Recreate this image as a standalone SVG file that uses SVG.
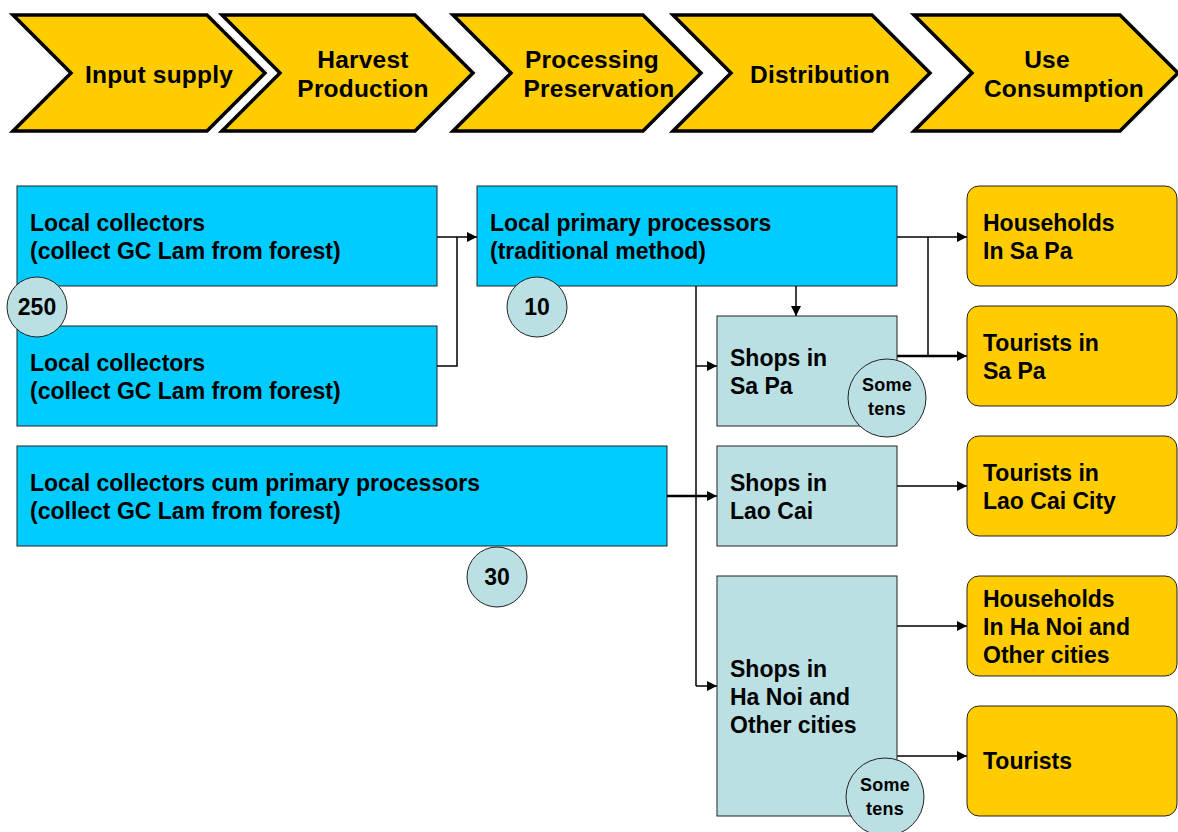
<svg xmlns="http://www.w3.org/2000/svg" width="1178" height="832" viewBox="0 0 1178 832">
<defs>
<style>
.chev{fill:#FFCC00;stroke:#000;stroke-width:3.5;stroke-linejoin:miter}
.ct{font-family:"Liberation Sans",Arial,sans-serif;font-weight:bold;font-size:24.5px;letter-spacing:0.2px;fill:#000;text-anchor:middle}
.blue{fill:#00CCFF;stroke:#222;stroke-width:1}
.shop{fill:#BBE0E3;stroke:#222;stroke-width:1}
.cons{fill:#FFCC00;stroke:#222;stroke-width:1}
.circ{fill:#BBE0E3;stroke:#222;stroke-width:1}
.t{font-family:"Liberation Sans",Arial,sans-serif;font-weight:bold;font-size:23px;fill:#000}
.cn{font-family:"Liberation Sans",Arial,sans-serif;font-weight:bold;font-size:23px;fill:#000;text-anchor:middle}
.cs{font-family:"Liberation Sans",Arial,sans-serif;font-weight:bold;font-size:18px;letter-spacing:0.3px;fill:#000;text-anchor:middle}
.ln{fill:none;stroke:#000;stroke-width:1.5}
.lnb{fill:none;stroke:#000;stroke-width:2.5}
</style>
<marker id="ah" viewBox="0 0 10 10" refX="10" refY="5" markerWidth="10" markerHeight="10" markerUnits="userSpaceOnUse" orient="auto">
<path d="M0,0 L10,5 L0,10 z" fill="#000"/>
</marker>
</defs>
<rect width="1178" height="832" fill="#fff"/>

<g id="stage-input">
<polygon class="chev" points="13,15 207,15 265,73 207,131 13,131 71,73"/>
<text class="ct" x="159" y="83">Input supply</text>
</g>
<g id="stage-harvest">
<polygon class="chev" points="222,15 415,15 473,73 415,131 222,131 280,73"/>
<text class="ct" x="363" y="68">Harvest</text>
<text class="ct" x="363" y="97">Production</text>
</g>
<g id="stage-processing">
<polygon class="chev" points="453,15 643,15 701,73 643,131 453,131 511,73"/>
<text class="ct" x="592" y="68">Processing</text>
<text class="ct" x="599" y="97">Preservation</text>
</g>
<g id="stage-distribution">
<polygon class="chev" points="673,15 872,15 930,73 872,131 673,131 731,73"/>
<text class="ct" x="820" y="83">Distribution</text>
</g>
<g id="stage-use">
<polygon class="chev" points="914,15 1120,15 1178,73 1120,131 914,131 972,73"/>
<text class="ct" x="1047" y="68">Use</text>
<text class="ct" x="1064" y="97">Consumption</text>
</g>

<g id="connectors">
<polyline class="ln" points="437,237 457,237"/>
<polyline class="ln" points="437,366 457,366 457,237"/>
<line class="ln" x1="457" y1="237" x2="477" y2="237" marker-end="url(#ah)"/>
<line class="ln" x1="796" y1="286" x2="796" y2="316" marker-end="url(#ah)"/>
<polyline class="ln" points="696,286 696,686"/>
<line class="ln" x1="696" y1="366" x2="717" y2="366" marker-end="url(#ah)"/>
<line class="lnb" x1="667" y1="496" x2="709" y2="496"/>
<line class="ln" x1="696" y1="496" x2="717" y2="496" marker-end="url(#ah)"/>
<line class="ln" x1="696" y1="686" x2="717" y2="686" marker-end="url(#ah)"/>
<line class="ln" x1="897" y1="237" x2="967" y2="237" marker-end="url(#ah)"/>
<polyline class="ln" points="928,237 928,356"/>
<line class="lnb" x1="897" y1="356" x2="959" y2="356"/>
<line class="ln" x1="897" y1="356" x2="967" y2="356" marker-end="url(#ah)"/>
<line class="ln" x1="897" y1="486" x2="967" y2="486" marker-end="url(#ah)"/>
<line class="ln" x1="897" y1="626" x2="967" y2="626" marker-end="url(#ah)"/>
<line class="ln" x1="897" y1="756" x2="967" y2="756" marker-end="url(#ah)"/>
</g>

<g id="local-collectors-1">
<rect class="blue" x="17" y="186" width="420" height="100"/>
<text class="t" x="30" y="231">Local collectors</text>
<text class="t" x="30" y="259">(collect GC Lam from forest)</text>
</g>
<g id="local-collectors-2">
<rect class="blue" x="17" y="326" width="420" height="100"/>
<text class="t" x="30" y="371">Local collectors</text>
<text class="t" x="30" y="399">(collect GC Lam from forest)</text>
</g>
<g id="count-250">
<circle class="circ" cx="37" cy="307" r="30"/>
<text class="cn" x="37" y="315">250</text>
</g>
<g id="local-collectors-cum">
<rect class="blue" x="17" y="446" width="650" height="100"/>
<text class="t" x="30" y="491">Local collectors cum primary processors</text>
<text class="t" x="30" y="519">(collect GC Lam from forest)</text>
</g>
<g id="count-30">
<circle class="circ" cx="497" cy="577" r="30"/>
<text class="cn" x="497" y="585">30</text>
</g>
<g id="local-primary-processors">
<rect class="blue" x="477" y="186" width="420" height="100"/>
<text class="t" x="490" y="231">Local primary processors</text>
<text class="t" x="490" y="259">(traditional method)</text>
</g>
<g id="count-10">
<circle class="circ" cx="537" cy="307" r="30"/>
<text class="cn" x="537" y="315">10</text>
</g>

<g id="shops-sapa">
<rect class="shop" x="717" y="316" width="180" height="110"/>
<text class="t" x="730" y="366">Shops in</text>
<text class="t" x="730" y="394">Sa Pa</text>
</g>
<g id="count-sapa">
<circle class="circ" cx="887" cy="398" r="39"/>
<text class="cs" x="887" y="391">Some</text>
<text class="cs" x="887" y="415">tens</text>
</g>
<g id="shops-laocai">
<rect class="shop" x="717" y="446" width="180" height="100"/>
<text class="t" x="730" y="491">Shops in</text>
<text class="t" x="730" y="519">Lao Cai</text>
</g>
<g id="shops-hanoi">
<rect class="shop" x="717" y="576" width="180" height="240"/>
<text class="t" x="730" y="677">Shops in</text>
<text class="t" x="730" y="705">Ha Noi and</text>
<text class="t" x="730" y="733">Other cities</text>
</g>
<g id="count-hanoi">
<circle class="circ" cx="885" cy="797" r="39"/>
<text class="cs" x="885" y="791">Some</text>
<text class="cs" x="885" y="815">tens</text>
</g>

<g id="households-sapa">
<rect class="cons" x="967" y="186" width="210" height="100" rx="12"/>
<text class="t" x="983" y="231">Households</text>
<text class="t" x="983" y="259">In Sa Pa</text>
</g>
<g id="tourists-sapa">
<rect class="cons" x="967" y="306" width="210" height="100" rx="12"/>
<text class="t" x="983" y="351">Tourists in</text>
<text class="t" x="983" y="379">Sa Pa</text>
</g>
<g id="tourists-laocai">
<rect class="cons" x="967" y="436" width="210" height="100" rx="12"/>
<text class="t" x="983" y="481">Tourists in</text>
<text class="t" x="983" y="509">Lao Cai City</text>
</g>
<g id="households-hanoi">
<rect class="cons" x="967" y="576" width="210" height="100" rx="12"/>
<text class="t" x="983" y="607">Households</text>
<text class="t" x="983" y="635">In Ha Noi and</text>
<text class="t" x="983" y="663">Other cities</text>
</g>
<g id="tourists">
<rect class="cons" x="967" y="706" width="210" height="110" rx="12"/>
<text class="t" x="983" y="769">Tourists</text>
</g>
</svg>
